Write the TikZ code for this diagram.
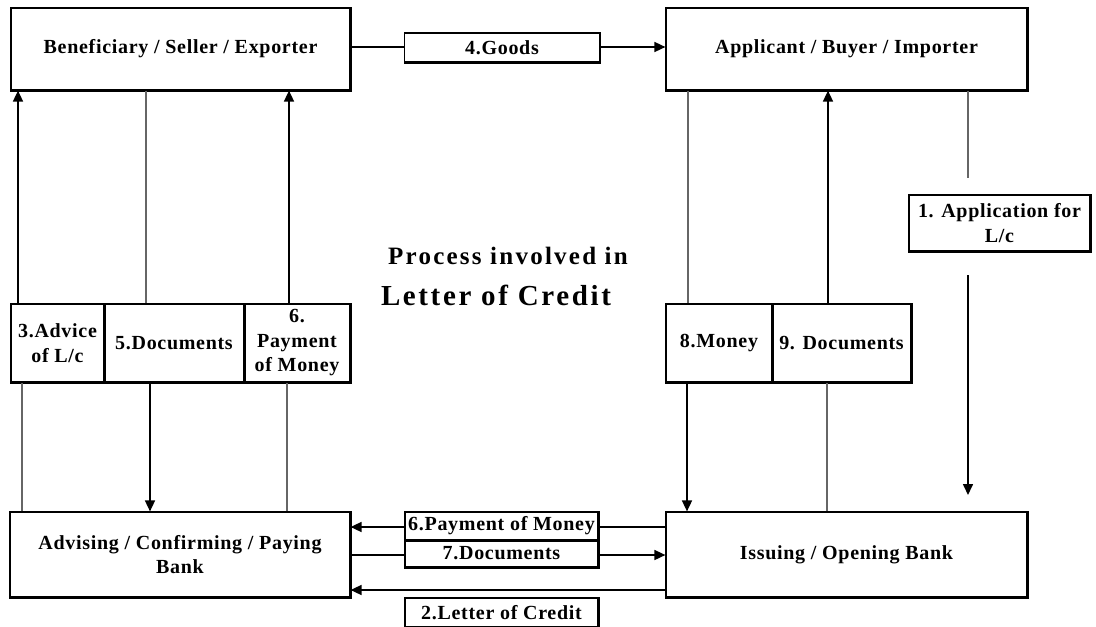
\documentclass[tikz,border=0pt]{standalone}
\usepackage{fontspec}
\setmainfont{Liberation Serif}
\newfontfamily\labfont[LetterSpace=3.5]{Liberation Serif}
\newfontfamily\titlefont[LetterSpace=9]{Liberation Serif}
\usetikzlibrary{arrows.meta}
\begin{document}
\begin{tikzpicture}[x=1pt,y=-1pt,
 box/.style={draw=black, line width=1.2pt, fill=white, inner sep=1pt, align=center,
   font=\labfont\bfseries\fontsize{20}{24.5}\selectfont},
 conn/.style={draw=black!60, line width=1.3pt},
 arr/.style={draw=black, line width=1.6pt, -{Triangle[length=11pt,width=10pt]}},
 ttl/.style={font=\titlefont\bfseries\fontsize{#1}{#1}\selectfont},
]
\useasboundingbox (0,0) rectangle (1096,627);
\fill[white] (0,0) rectangle (1096,627);

% main boxes
\node[box, minimum width=339pt, minimum height=82pt] (ben) at (180.5,49) {Beneficiary / Seller / Exporter};
\node[box, minimum width=361pt, minimum height=82pt] (app) at (846.5,49) {Applicant / Buyer / Importer};
\node[box, minimum width=340pt, minimum height=85pt] (adv) at (180,554.5) {Advising / Confirming / Paying\\Bank};
\node[box, minimum width=361pt, minimum height=85pt] (iss) at (846.5,554.5) {Issuing / Opening Bank};

% column / row helpers
\foreach \x in {18,22,146,150,287,289,687,688,827,828,968} \coordinate (X\x) at (\x,0);
\foreach \y in {47,527,555,590} \coordinate (Y\y) at (0,\y);

% horizontal flows
\draw[arr] (ben.east |- Y47) -- (app.west |- Y47);
\draw[arr] (iss.west |- Y527) -- (adv.east |- Y527);
\draw[arr] (adv.east |- Y555) -- (iss.west |- Y555);
\draw[arr] (iss.west |- Y590) -- (adv.east |- Y590);

% label boxes on the horizontal flows
\node[box, minimum width=195pt, minimum height=29pt] (goods) at (502,47.5) {4.Goods};
\node[box, minimum width=193pt, minimum height=28pt] (pay6b) at (501.5,526) {6.Payment of Money};
\node[box, minimum width=193pt, minimum height=27pt] (doc7) at (501.5,553.5) {7.Documents};
\node[box, minimum width=193pt, minimum height=29pt] (loc2) at (501.5,612.5) {2.Letter of Credit};

% middle left boxes
\node[box, minimum width=93pt, minimum height=78pt] (adv3) at (57.5,343) {3.Advice\\of L/c};
\node[box, minimum width=140pt, minimum height=78pt] (doc5) at (174,343) {5.Documents};
\node[box, minimum width=106pt, minimum height=78pt] (pay6a) at (297,343) {6.\\Payment\\of Money};

% middle right boxes
\node[box, minimum width=106pt, minimum height=78pt] (mon8) at (719,343) {8.Money};
\node[box, minimum width=139pt, minimum height=78pt] (doc9) at (841.5,343) {9. Documents};
\node[box, minimum width=181pt, minimum height=56pt] (appl1) at (999.5,223) {1. Application for\\L/c};

% heavy right/bottom edges
\foreach \n in {ben,app,adv,iss,goods,pay6b,doc7,loc2,adv3,doc5,pay6a,mon8,doc9,appl1}
  \draw[line width=2.6pt, line join=miter] (\n.north east) -- (\n.south east) -- (\n.south west);

% vertical flows, left
\draw[arr] (adv3.north -| X18) -- (ben.south -| X18);
\draw[conn] (adv.north -| X22) -- (adv3.south -| X22);
\draw[conn] (ben.south -| X146) -- (doc5.north -| X146);
\draw[arr] (doc5.south -| X150) -- (adv.north -| X150);
\draw[arr] (pay6a.north -| X289) -- (ben.south -| X289);
\draw[conn] (adv.north -| X287) -- (pay6a.south -| X287);

% vertical flows, right
\draw[conn] (app.south -| X688) -- (mon8.north -| X688);
\draw[arr] (mon8.south -| X687) -- (iss.north -| X687);
\draw[arr] (doc9.north -| X828) -- (app.south -| X828);
\draw[conn] (iss.north -| X827) -- (doc9.south -| X827);

\coordinate (a1top) at (968,178);
\coordinate (a1from) at (968,275);
\coordinate (a1tip) at (968,495);
\draw[conn] (app.south -| X968) -- (a1top);
\draw[arr] (a1from) -- (a1tip);

% title
\node[ttl=25] (t1) at (508,256) {Process involved in};
\node[ttl=29] (t2) at (496,295) {Letter of Credit};
\end{tikzpicture}
\end{document}
